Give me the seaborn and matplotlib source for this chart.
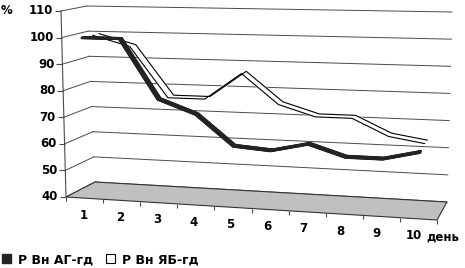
import numpy as np
import seaborn as sns
import matplotlib
matplotlib.use("Agg")
import matplotlib.pyplot as plt
from matplotlib.transforms import Transform, offset_copy
from matplotlib.patches import Patch
from matplotlib.lines import TICKLEFT, TICKDOWN

plt.rcParams['font.family'] = ['DejaVu Sans']

# data (values in %)
days = [1, 2, 3, 4, 5, 6, 7, 8, 9, 10]
ag_gd = [100, 100, 78, 73, 62, 61, 64, 60, 60, 63]    # Р Вн АГ-гд
yab_gd = [100, 96, 77, 77, 87, 76, 72, 72, 66, 64]    # Р Вн ЯБ-гд
value_ticks = [40, 50, 60, 70, 80, 90, 100, 110]
series_names = ["Р Вн АГ-гд", "Р Вн ЯБ-гд"]
unit_label = "день"

VMIN, VMAX = 40, 110

# pixel positions of the 3d box corners: [depth][value][category]
CORNERS = np.array([
    [[(66, 197), (437, 220)], [(61, 11), (443, 18)]],   # front
    [[(95, 182), (447, 202)], [(87, 6), (452, 12)]],    # back wall
], dtype=float)


class BoxProjection(Transform):
    """Maps chart coordinates on one plane of the 3d box to pixels."""
    input_dims = output_dims = 2
    is_separable = False
    has_inverse = False

    def __init__(self, plane, level=0.0):
        super().__init__()
        self.plane = plane
        self.level = level

    def transform_non_affine(self, values):
        a, b = np.asarray(values, float).T
        if self.plane == "depth":      # a = day, b = value
            u, t, d = (a - 0.5) / 10, (b - VMIN) / (VMAX - VMIN), np.full_like(a, self.level)
        elif self.plane == "side":     # a = depth, b = value
            u, t, d = np.zeros_like(a), (b - VMIN) / (VMAX - VMIN), a
        else:                          # floor: a = day, b = depth
            u, t, d = (a - 0.5) / 10, np.zeros_like(a), b
        c = CORNERS
        out = np.zeros((len(a), 2))
        for i, wd in ((0, 1 - d), (1, d)):
            for j, wt in ((0, 1 - t), (1, t)):
                for k, wu in ((0, 1 - u), (1, u)):
                    out += (wd * wt * wu)[:, None] * c[i, j, k]
        return out


fig = plt.figure(figsize=(4.65, 2.68), dpi=100)
ax = fig.add_axes([0, 0, 1, 1])
ax.set_xlim(0, 465)
ax.set_ylim(268, 0)
ax.set_autoscale_on(False)
ax.axis("off")

grid_c = "#4a4a4a"
back = BoxProjection("depth", 1.0) + ax.transData
side = BoxProjection("side") + ax.transData
floor = BoxProjection("floor") + ax.transData

# floor
ax.fill([0.5, 10.5, 10.5, 0.5], [0, 0, 1, 1], transform=floor,
        facecolor="#c0c0c0", edgecolor="#333333", lw=0.8, zorder=1)

# gridlines on back wall and left wall
for v in value_ticks:
    ax.plot([0.5, 10.5], [v, v], transform=back, color=grid_c, lw=0.7, zorder=0)
    ax.plot([0, 1], [v, v], transform=side, color=grid_c, lw=0.7, zorder=0)

# value axis
ax.plot([0, 0], [VMIN, VMAX], transform=side, color=grid_c, lw=0.8)
ax.plot([0] * len(value_ticks), value_ticks, transform=side, ls="none",
        marker=TICKLEFT, ms=4, mec=grid_c, mew=0.8)
for v in value_ticks:
    ax.text(0, v, str(v), transform=offset_copy(side, fig=fig, x=-8, y=0, units="dots"),
            ha="right", va="center", fontsize=8.5, fontweight="bold")

# category axis
ax.plot(np.arange(0.5, 11, 1), [0] * 11, transform=floor, ls="none",
        marker=TICKDOWN, ms=3, mec=grid_c, mew=0.8)
for d in days:
    ax.text(d, 0, str(d), transform=offset_copy(floor, fig=fig, x=-0.5 * d, y=-17, units="dots"),
            ha="center", va="center", fontsize=8.5, fontweight="bold")
ax.text(days[-1], 0, unit_label, transform=offset_copy(floor, fig=fig, x=8, y=-18, units="dots"),
        ha="left", va="center", fontsize=8.5, fontweight="bold")
fig.text(0.002, 1 - 11 / 268, "%", ha="left", va="center", fontsize=8.5, fontweight="bold")

# back series: white ribbon with black edges
for dp in np.linspace(0.47, 0.68, 6):
    sns.lineplot(x=days, y=yab_gd, ax=ax, color="white", lw=1.8, sort=False,
                 legend=False, solid_capstyle="butt",
                 transform=BoxProjection("depth", dp) + ax.transData, zorder=3)
for dp in (0.45, 0.70):
    sns.lineplot(x=days, y=yab_gd, ax=ax, color="black", lw=0.8, sort=False,
                 legend=False, solid_capstyle="butt",
                 transform=BoxProjection("depth", dp) + ax.transData, zorder=4)

# front series: dark ribbon
for dp in np.linspace(0.0, 0.13, 10):
    sns.lineplot(x=days, y=ag_gd, ax=ax, color="#232323", lw=1.6, sort=False,
                 legend=False, solid_capstyle="butt",
                 transform=BoxProjection("depth", dp) + ax.transData, zorder=5)

ax.set_xlim(0, 465)
ax.set_ylim(268, 0)

handles = [Patch(facecolor="#232323", edgecolor="#232323"),
           Patch(facecolor="white", edgecolor="black", lw=0.8)]
fig.legend(handles, series_names, loc="lower left", bbox_to_anchor=(0.0, 0.0), ncol=2,
           frameon=False, handlelength=0.7, handleheight=0.7, handletextpad=0.6,
           columnspacing=1.0, borderpad=0.0, borderaxespad=0.15,
           prop={"weight": "bold", "size": 9})

fig.savefig("out.png", dpi=100)
